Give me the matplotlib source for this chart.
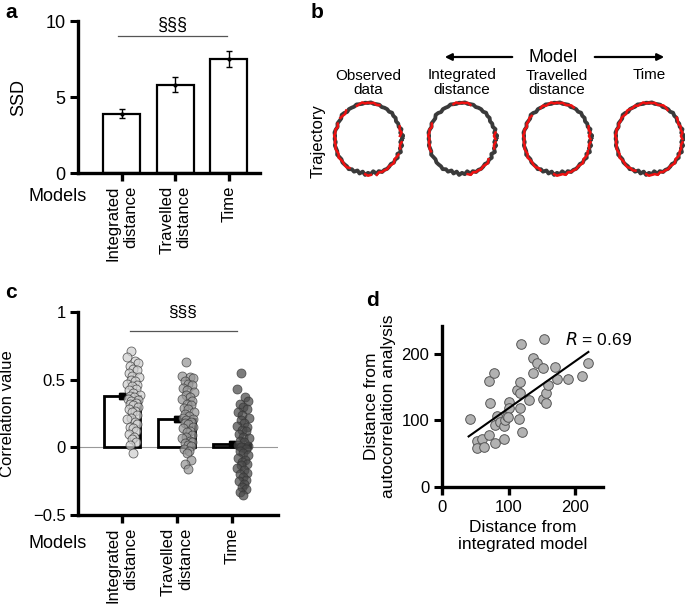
import numpy as np
import matplotlib.pyplot as plt
from matplotlib.patches import FancyArrowPatch

plt.rcParams['font.family'] = ['Liberation Sans', 'DejaVu Sans']
plt.rcParams['font.size'] = 12

# ---------------- data ----------------
models = ['Integrated\ndistance', 'Travelled\ndistance', 'Time']

# panel a
ssd_mean = [3.9, 5.8, 7.5]
ssd_err = [0.3, 0.5, 0.5]

# panel c
corr_mean = [0.38, 0.21, 0.025]
corr_err = [0.02, 0.02, 0.02]
corr_int = [0.71, 0.67, 0.64, 0.62, 0.60, 0.58, 0.57, 0.55, 0.53, 0.52, 0.50, 0.49,
            0.47, 0.46, 0.45, 0.43, 0.42, 0.40, 0.39, 0.38, 0.37, 0.36, 0.35, 0.34,
            0.33, 0.32, 0.31, 0.30, 0.28, 0.27, 0.26, 0.24, 0.22, 0.21, 0.19, 0.17,
            0.15, 0.14, 0.12, 0.10, 0.08, 0.06, 0.04, 0.02, -0.04]
corr_trav = [0.63, 0.53, 0.52, 0.51, 0.49, 0.47, 0.46, 0.44, 0.42, 0.41, 0.39, 0.37,
             0.36, 0.34, 0.32, 0.31, 0.29, 0.28, 0.26, 0.25, 0.23, 0.22, 0.21, 0.20,
             0.19, 0.18, 0.17, 0.15, 0.14, 0.12, 0.11, 0.09, 0.08, 0.07, 0.05, 0.04,
             0.03, 0.02, 0.01, -0.01, -0.03, -0.04, -0.09, -0.12, -0.16]
corr_time = [0.55, 0.43, 0.37, 0.34, 0.32, 0.30, 0.28, 0.26, 0.24, 0.22, 0.20, 0.18,
             0.16, 0.15, 0.13, 0.12, 0.10, 0.08, 0.07, 0.05, 0.04, 0.02, 0.01, 0.00,
             -0.01, -0.03, -0.04, -0.06, -0.08, -0.09, -0.11, -0.12, -0.13, -0.15, -0.17,
             -0.19, -0.20, -0.22, -0.24, -0.25, -0.27, -0.29, -0.31, -0.33, -0.35]
jitter = [0.17, 0.10, 0.24, 0.30, 0.14, 0.21, 0.27, 0.12, 0.19, 0.31, 0.16, 0.23,
          0.09, 0.28, 0.18, 0.25, 0.13, 0.20, 0.32, 0.15, 0.22, 0.11, 0.29, 0.17,
          0.26, 0.14, 0.21, 0.30, 0.12, 0.24, 0.19, 0.27, 0.16, 0.10, 0.23, 0.28,
          0.15, 0.20, 0.25, 0.13, 0.22, 0.18, 0.26, 0.14, 0.21]

# panel d
dist_int = [41.5, 52.5, 52.5, 60, 63.5, 70, 70, 78.5, 72.5, 80, 82.5, 80, 87.5, 93.5,
            92.5, 95, 97.5, 100, 100, 98.5, 115, 117.5, 120, 112.5, 117.5, 117.5, 118.5,
            131.5, 136.5, 137.5, 143.5, 152.5, 153.5, 152.5, 156.5, 156.5, 160, 170,
            172.5, 190, 211, 220]
dist_auto = [102, 68.5, 58.5, 72, 60, 77.5, 160, 172, 127, 66, 107, 93.5, 97, 72,
             91, 101, 106, 128.5, 118.5, 104.5, 102, 118.5, 82, 146, 158.5, 141, 215,
             131, 172, 194.5, 187, 179.5, 222, 132, 127, 141, 153.5, 181, 162, 162,
             167.5, 186]
fit_x = [40, 220]
fit_y = [76, 203]

# panel b: trajectory radius every 5 degrees
traj_grey = [1.03, 1.07, 0.99, 1.05, 0.99, 1.01, 0.98, 1.02, 1.0, 1.03, 0.99, 1.01,
             1.0, 0.98, 1.01, 1.0, 0.99, 1.02, 1.0, 1.01, 0.99, 1.0, 1.02, 0.99,
             1.0, 1.01, 0.98, 1.02, 1.04, 0.99, 1.0, 1.02, 0.98, 1.01, 1.03, 1.0,
             1.01, 0.98, 1.02, 1.0, 0.99, 1.03, 1.0, 0.98, 1.01, 1.0, 0.99, 1.02,
             0.97, 1.0, 0.93, 0.99, 0.92, 1.0, 0.94, 0.98, 0.91, 1.0, 0.95, 1.01,
             0.99, 1.01, 1.0, 0.98, 1.02, 1.0, 1.04, 0.98, 1.06, 1.0, 1.05, 0.98]
traj_red = [1.01, 0.97, 1.03, 0.99, 1.02, 0.98, 1.01, 1.03, 0.99, 1.0, 1.02, 0.98,
            1.01, 1.03, 1.0, 0.98, 1.02, 1.0, 1.01, 0.99, 1.03, 1.0, 0.98, 1.02,
            0.99, 1.01, 1.03, 0.98, 1.0, 1.02, 0.99, 1.01, 0.97, 1.02, 1.0, 1.03,
            0.98, 1.01, 0.99, 1.02, 1.0, 0.98, 1.03, 1.0, 0.99, 1.01, 1.02, 0.98,
            1.0, 0.97, 1.02, 0.99, 1.01, 0.98, 1.02, 1.0, 0.99, 1.03, 0.98, 1.01,
            1.0, 1.02, 0.99, 1.01, 1.03, 0.98, 1.0, 1.02, 0.99, 1.01, 0.98, 1.02]
traj_titles = ['Observed\ndata', 'Integrated\ndistance', 'Travelled\ndistance', 'Time']
red_arcs = [[(70, 110), (130, 145), (155, 235), (265, 275), (285, 335), (345, 355), (5, 20)],
            [(75, 105), (155, 200), (280, 325), (345, 355), (0, 10)],
            [(60, 120), (140, 240), (262, 340), (345, 355), (0, 20)],
            [(0, 35), (55, 245), (265, 355)]]

W, H = 685, 609
fig = plt.figure(figsize=(W / 100, H / 100), dpi=100)


def fx(x):
    return x / W


def fy(y):
    return 1 - y / H


def style_axis(ax, size=12):
    for s in ['top', 'right']:
        ax.spines[s].set_visible(False)
    for s in ['left', 'bottom']:
        ax.spines[s].set_linewidth(2.4)
    ax.tick_params(axis='y', direction='out', length=5.5, width=2.2, labelsize=size)
    ax.tick_params(axis='x', direction='out', length=5.5, width=2.4, labelsize=12)


xpos = np.arange(len(models))

# ---------------- panel a ----------------
axa = fig.add_axes([fx(78), fy(173), fx(182), 152 / H])
axa.bar(xpos, ssd_mean, width=0.69, color='white', edgecolor='black', linewidth=1.6, zorder=2)
axa.errorbar(xpos, ssd_mean, yerr=ssd_err, fmt='.', color='black', ms=4,
             elinewidth=1, capsize=2.5, capthick=1, zorder=3)
axa.set_xlim(-0.82, 2.58)
axa.set_ylim(0, 10)
axa.set_yticks([0, 5, 10])
axa.set_xticks(xpos)
axa.set_xticklabels(models, rotation=90, ha='center', va='top', multialignment='right')
axa.set_ylabel('SSD', fontsize=13)
axa.yaxis.set_label_coords(-0.28, 0.5)
axa.plot([-0.07, 1.97], [9, 9], color='#555555', lw=0.9, clip_on=False)
axa.text(0.95, 9.72, '§§§', ha='center', va='center', fontsize=13)
style_axis(axa, 13)
fig.text(fx(28), fy(197), 'Models', ha='left', va='center', fontsize=13)

# ---------------- panel c ----------------
axc = fig.add_axes([fx(78), fy(515), fx(200), 203 / H])
axc.axhline(0, color='#999999', lw=0.8, zorder=1)
axc.bar(xpos, corr_mean, width=0.67, color='white', edgecolor='black', linewidth=2.0, zorder=2)
axc.errorbar(xpos, corr_mean, yerr=corr_err, fmt='s', color='black', ms=4,
             elinewidth=1.2, capsize=2, zorder=3)
groups = [corr_int, corr_trav, corr_time]
faces = ['#cfcfcf', '#969696', '#4a4a4a']
for i, vals in enumerate(groups):
    axc.scatter(i + np.array(jitter[:len(vals)]), vals, s=42, color=faces[i],
                edgecolor='#333333', linewidth=0.6, alpha=0.72, zorder=4)
axc.set_xlim(-0.8, 2.84)
axc.set_ylim(-0.5, 1)
axc.set_yticks([-0.5, 0, 0.5, 1])
axc.set_yticklabels(['\u22120.5', '0', '0.5', '1'])
axc.set_xticks(xpos)
axc.set_xticklabels(models, rotation=90, ha='center', va='top', multialignment='right')
axc.set_ylabel('Correlation value', fontsize=12)
axc.yaxis.set_label_coords(-0.315, 0.5)
axc.plot([0.15, 2.09], [0.86, 0.86], color='#555555', lw=0.9)
axc.text(1.1, 1.0, '§§§', ha='center', va='center', fontsize=12.5)
style_axis(axc)
fig.text(fx(28), fy(543), 'Models', ha='left', va='center', fontsize=13)

# ---------------- panel d ----------------
axd = fig.add_axes([fx(442), fy(487), fx(161), 161 / H])
axd.scatter(dist_int, dist_auto, s=48, color='#b2b2b2', edgecolor='#555555',
            linewidth=0.7, zorder=3)
axd.plot(fit_x, fit_y, color='black', lw=1.5, zorder=4)
axd.set_xlim(0, 242)
axd.set_ylim(0, 242)
axd.set_xticks([0, 100, 200])
axd.set_yticks([0, 100, 200])
axd.set_xlabel('Distance from\nintegrated model', fontsize=12.5)
axd.set_ylabel('Distance from\nautocorrelation analysis', fontsize=12.5)
axd.text(185, 221, '$R$ = 0.69', ha='left', va='center', fontsize=12.5)
style_axis(axd)

# ---------------- panel b ----------------
ang = np.deg2rad(np.arange(0, 360, 5))
deg = np.arange(0, 360, 5)
centers = [368, 462, 557, 649]
for k, cx in enumerate(centers):
    axb = fig.add_axes([fx(cx - 37), fy(139 + 40), fx(74), 80 / H])
    r = np.array(traj_grey + traj_grey[:1])
    a = np.append(ang, ang[0])
    axb.plot(r * np.cos(a), r * np.sin(a), color='#3a3a3a', lw=2.8)
    rr = np.array(traj_red)
    for a0, a1 in red_arcs[k]:
        m = (deg >= a0) & (deg <= a1)
        axb.plot(rr[m] * np.cos(ang[m]), rr[m] * np.sin(ang[m]), color='#ee1111', lw=1.8)
    axb.set_xlim(-1.12, 1.12)
    axb.set_ylim(-1.11, 1.11)
    axb.axis('off')
    ty = 75 if '\n' not in traj_titles[k] else 82.5
    fig.text(fx(cx), fy(ty), traj_titles[k], ha='center', va='center',
             fontsize=11, linespacing=1.0)

fig.text(fx(318), fy(141), 'Trajectory', rotation=90, ha='center', va='center', fontsize=12)
fig.text(fx(553), fy(57), 'Model', ha='center', va='center', fontsize=13)
for p0, p1 in [((515, 57), (442, 57)), ((592, 57), (667, 57))]:
    arr = FancyArrowPatch((fx(p0[0]), fy(p0[1])), (fx(p1[0]), fy(p1[1])),
                          transform=fig.transFigure, arrowstyle='-|>',
                          mutation_scale=10, lw=1.6, color='black')
    fig.add_artist(arr)

# panel letters
for letter, x, y in [('a', 5, 12), ('b', 311, 12), ('c', 5, 293), ('d', 366, 300)]:
    fig.text(fx(x), fy(y), letter, ha='left', va='center', fontsize=15, weight='bold')

plt.savefig('out.png', dpi=100)
plt.close(fig)
